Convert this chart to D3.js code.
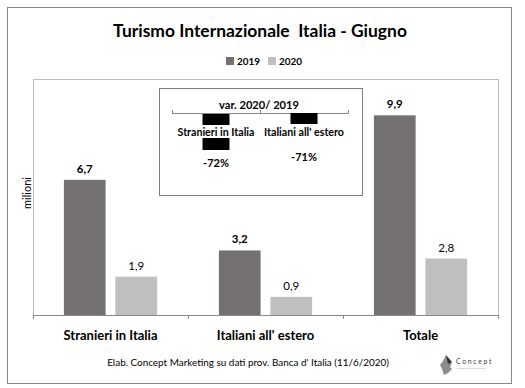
<!DOCTYPE html>
<html><head><meta charset="utf-8">
<script src="https://cdn.jsdelivr.net/npm/d3@7"></script>
<style>body{margin:0;background:#fff}svg{display:block}text{font-family:Lato,"Open Sans",sans-serif;white-space:pre}</style>
</head><body><svg id="c" width="525" height="388"></svg>
<script>
const title = "Turismo Internazionale  Italia - Giugno";
const categories = ["Stranieri in Italia", "Italiani all' estero", "Totale"];
const seriesNames = ["2019", "2020"];
const values2019 = [6.7, 3.2, 9.9];
const values2020 = [1.9, 0.9, 2.8];
const valueLabels2019 = ["6,7", "3,2", "9,9"];
const valueLabels2020 = ["1,9", "0,9", "2,8"];
const insetTitle = "var. 2020/ 2019";
const insetCategories = ["Stranieri in Italia", "Italiani all' estero"];
const insetValues = [-72, -71];
const insetLabels = ["-72%", "-71%"];
const yLabel = "milioni";
const footer = "Elab. Concept Marketing su dati prov. Banca d' Italia (11/6/2020)";

const colors = ["#767171", "#bfbfbf"];
const svg = d3.select("#c");

function fit(sel, w) {
  const n = sel.node(); const fs = parseFloat(sel.attr("font-size"));
  const cur = n.getComputedTextLength(); sel.attr("font-size", (fs * w / cur).toFixed(2));
}

// outer border
svg.append("rect").attr("x", 7.5).attr("y", 7.5).attr("width", 504).attr("height", 376)
  .attr("fill", "#fff").attr("stroke", "#898989").attr("stroke-width", 1);

// title
const t = svg.append("text").attr("x", 260).attr("y", 37).attr("text-anchor", "middle")
  .attr("font-size", 18).attr("font-weight", "bold").attr("fill", "#000").text(title);
fit(t, 294);

// legend
const leg = svg.append("g");
const legX = [226, 268];
seriesNames.forEach((s, i) => {
  leg.append("rect").attr("x", legX[i]).attr("y", 57).attr("width", 8).attr("height", 8).attr("fill", colors[i]);
  const lt = leg.append("text").attr("x", legX[i] + 11).attr("y", 65).attr("font-size", 12)
    .attr("font-weight", "bold").attr("fill", "#000").text(s);
  fit(lt, 23);
});

// plot area
const x0 = 33, x1 = 499, yTop = 79, yBase = 315;
svg.append("rect").attr("x", x0 + 0.5).attr("y", yTop + 0.5).attr("width", x1 - x0 - 1).attr("height", yBase - yTop)
  .attr("fill", "none").attr("stroke", "#bfbfbf");

const x = d3.scaleBand().domain(categories).range([x0, x1 - 1]);
const xs = d3.scaleBand().domain(seriesNames).range([0, x.bandwidth()]).paddingInner(0.19).paddingOuter(0.6);
const y = d3.scaleLinear().domain([0, 11.7]).range([yBase, yTop]);

const series = [values2019, values2020];
const seriesLabels = [valueLabels2019, valueLabels2020];
series.forEach((vals, si) => {
  const g = svg.append("g");
  g.selectAll("rect").data(vals).join("rect")
    .attr("x", (d, i) => x(categories[i]) + xs(seriesNames[si]))
    .attr("width", xs.bandwidth())
    .attr("y", d => y(d)).attr("height", d => yBase - y(d))
    .attr("fill", colors[si]);
  g.selectAll("text").data(vals).join("text")
    .attr("x", (d, i) => x(categories[i]) + xs(seriesNames[si]) + xs.bandwidth() / 2)
    .attr("y", d => y(d) - 7).attr("text-anchor", "middle")
    .attr("font-size", 11.5).attr("font-weight", si === 0 ? "bold" : "normal").attr("fill", "#000")
    .text((d, i) => seriesLabels[si][i]);
});

// x axis
const xAxis = svg.append("g").attr("transform", `translate(0,${yBase})`)
  .call(d3.axisBottom(x).tickSize(0).tickFormat(""));
xAxis.select(".domain").attr("stroke", "#898989").attr("d", `M${x0},0.5H${x1 - 1}`);
const tickPos = [x0, ...categories.map(c => x(c) + x.bandwidth())];
xAxis.selectAll("line.t").data(tickPos).join("line").attr("class", "t")
  .attr("x1", d => d + 0.5).attr("x2", d => d + 0.5).attr("y1", 0).attr("y2", 4).attr("stroke", "#898989");
svg.append("g").selectAll("text").data(categories).join("text")
  .attr("x", d => x(d) + x.bandwidth() / 2).attr("y", 340).attr("text-anchor", "middle")
  .attr("font-size", 13).attr("font-weight", "bold").attr("fill", "#000").text(d => d);

// y label
svg.append("text").attr("transform", "translate(31,193) rotate(-90)").attr("text-anchor", "middle")
  .attr("font-size", 11).attr("fill", "#000").text(yLabel);

// inset box
svg.append("rect").attr("x", 159.5).attr("y", 88.5).attr("width", 203).attr("height", 107)
  .attr("fill", "#fff").attr("stroke", "#7f7f7f");
const it = svg.append("text").attr("x", 259).attr("y", 109).attr("text-anchor", "middle")
  .attr("font-size", 12).attr("font-weight", "bold").attr("fill", "#000").text(insetTitle);
fit(it, 80);
const ix = d3.scaleBand().domain(insetCategories).range([172, 348]);
const iy = d3.scaleLinear().domain([-71, -72]).range([157, 163]);
const ia = svg.append("g").attr("transform", "translate(0,113)")
  .call(d3.axisBottom(ix).tickSize(0).tickFormat(""));
ia.select(".domain").attr("stroke", "#898989").attr("d", "M172,0.5H348");
ia.selectAll("line.t").data([172, ix(insetCategories[1]), 348]).join("line").attr("class", "t")
  .attr("x1", d => d + 0.5).attr("x2", d => d + 0.5).attr("y1", -3).attr("y2", 1).attr("stroke", "#898989");
const bw = 27;
const labW = [77, 80];
insetValues.forEach((v, i) => {
  const cx = ix(insetCategories[i]) + ix.bandwidth() / 2;
  svg.append("rect").attr("x", cx - bw / 2).attr("y", 113 + (i === 0 ? 1 : 0)).attr("width", bw).attr("height", 11).attr("fill", "#000");
  if (i === 0) svg.append("rect").attr("x", cx - bw / 2).attr("y", 138).attr("width", bw).attr("height", 12).attr("fill", "#000");
  const cl = svg.append("text").attr("x", cx).attr("y", 136).attr("text-anchor", "middle")
    .attr("font-size", 11).attr("font-weight", "bold").attr("fill", "#000").text(insetCategories[i]);
  fit(cl, labW[i]);
  svg.append("text").attr("x", cx).attr("y", iy(v) + 4).attr("text-anchor", "middle")
    .attr("font-size", 11).attr("font-weight", "bold").attr("fill", "#000").text(insetLabels[i]);
});

// footer
const ft = svg.append("text").attr("x", 248).attr("y", 366).attr("text-anchor", "middle")
  .attr("font-size", 11).attr("fill", "#000").text(footer);
fit(ft, 282);

// logo
const logo = svg.append("g").attr("transform", "translate(440,355)");
logo.append("path").attr("d", "M6,0 L10,6 L12,8 L10,12 L12,14 L8,18 L4,20 L2,14 L0,10 L3,6 Z").attr("fill", "#8c8c8c");
logo.append("path").attr("d", "M6,0 L12,7 L8,9 Z").attr("fill", "#333");
logo.append("text").attr("x", 16).attr("y", 9).attr("font-size", 7).attr("letter-spacing", 1.6)
  .attr("fill", "#444").text("Concept");
logo.append("text").attr("x", 16).attr("y", 14).attr("font-size", 2.5).attr("fill", "#999").text("MARKETING PROMOTION");
</script></body></html>
